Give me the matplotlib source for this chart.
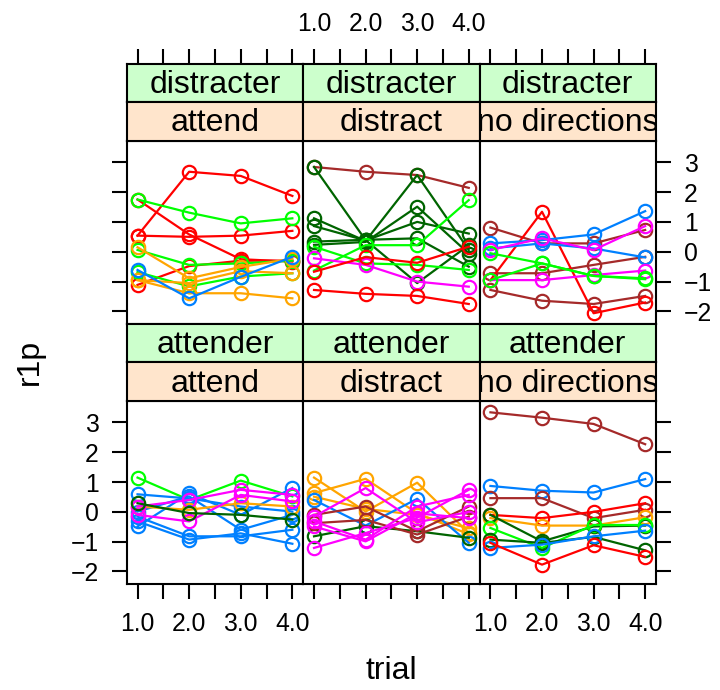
import numpy as np
import matplotlib.pyplot as plt

plt.rcParams['font.family'] = ['Liberation Sans', 'DejaVu Sans']

W, H = 720, 690

trial = [1, 2, 3, 4]

# group code -> lattice superpose colour
palette = {1: "#0080ff", 2: "#ff00ff", 3: "#006400", 4: "#ff0000",
           5: "#ffa500", 6: "#00ff00", 7: "#a52a2a"}

outer = ["distracter", "attender"]
inner = ["attend", "distract", "no directions"]

#### r1p values, one row per subject ####
# distracter / attend
tl_grp = [4, 4, 4, 4, 6, 6, 6, 5, 5, 5, 1]
tl_r1p = [[0.54, 2.68, 2.54, 1.87],
          [1.75, 0.58, -0.25, -0.33],
          [0.54, 0.50, 0.54, 0.70],
          [-1.11, -0.48, -0.30, -0.30],
          [1.75, 1.31, 0.95, 1.12],
          [0.06, -0.44, -0.39, -0.30],
          [-0.68, -1.16, -0.83, -0.72],
          [0.15, -0.89, -0.51, -0.23],
          [-0.95, -1.39, -1.39, -1.56],
          [-0.95, -1.05, -0.65, -0.72],
          [-0.61, -1.56, -0.84, -0.17]]

# distracter / distract
tm_grp = [7, 3, 3, 3, 3, 3, 6, 6, 2, 4, 4]
tm_r1p = [[2.84, 2.68, 2.57, 2.14],
          [2.84, 0.39, -1.05, 0.22],
          [1.12, 0.36, 2.57, 0.06],
          [0.86, 0.38, 1.00, 0.61],
          [0.34, 0.40, 0.45, -0.50],
          [0.23, 0.33, 1.51, -0.06],
          [0.17, -0.39, -0.44, -0.61],
          [-0.63, 0.22, 0.22, 1.73],
          [-0.22, -0.44, -1.00, -1.17],
          [-0.67, -0.18, -0.37, 0.17],
          [-1.28, -1.41, -1.48, -1.75]]

# distracter / no directions
tr_grp = [7, 7, 7, 4, 1, 1, 2, 2, 6, 6]
tr_r1p = [[0.81, 0.28, 0.28, 0.73],
          [-0.72, -0.72, -0.44, -0.17],
          [-1.28, -1.64, -1.75, -1.48],
          [-0.95, 1.34, -2.06, -1.70],
          [0.28, 0.39, 0.58, 1.36],
          [0.11, 0.28, 0.11, -0.19],
          [0.06, 0.45, 0.06, 0.86],
          [-0.95, -0.95, -0.78, -0.63],
          [-0.05, -0.39, -0.81, -0.89],
          [-0.95, -0.39, -0.81, -0.92]]

# attender / attend
bl_grp = [6, 1, 1, 1, 1, 1, 5, 2, 2, 3]
bl_r1p = [[1.15, 0.40, 1.05, 0.52],
          [0.59, 0.45, 0.18, 0.01],
          [-0.16, -0.82, -0.82, -0.60],
          [-0.32, -0.93, -0.72, -1.07],
          [-0.49, 0.62, -0.10, 0.80],
          [0.01, 0.52, -0.60, -0.10],
          [0.18, 0.07, 0.29, 0.18],
          [0.18, 0.40, 0.74, 0.57],
          [-0.10, -0.32, 0.57, 0.35],
          [0.29, -0.04, -0.10, -0.26]]

# attender / distract
bm_grp = [5, 5, 5, 1, 3, 7, 7, 2, 2, 2, 2]
bm_r1p = [[1.15, 0.01, 0.98, -0.71],
          [0.63, 1.11, -0.05, -0.75],
          [0.51, 0.10, -0.10, -0.55],
          [0.40, -0.46, 0.44, -1.04],
          [-0.82, -0.48, -0.65, -0.87],
          [-0.10, 0.18, -0.65, 0.18],
          [-0.38, -0.27, -0.76, -0.16],
          [-0.16, 0.80, -0.35, 0.00],
          [-1.21, -0.71, -0.20, 0.74],
          [-0.32, -0.93, 0.18, 0.57],
          [-0.49, -0.99, -0.05, -0.21]]

# attender / no directions
br_grp = [7, 1, 7, 4, 5, 3, 6, 3, 1, 4]
br_r1p = [[3.34, 3.16, 2.95, 2.27],
          [0.87, 0.71, 0.65, 1.10],
          [0.46, 0.46, -0.21, 0.07],
          [-0.10, -0.21, 0.00, 0.29],
          [-0.21, -0.46, -0.46, -0.18],
          [-0.10, -0.99, -0.49, -0.46],
          [-0.54, -1.21, -0.44, -0.44],
          [-0.93, -1.04, -0.84, -1.29],
          [-1.21, -1.10, -0.82, -0.63],
          [-1.04, -1.77, -1.12, -1.51]]

panels = [[(tl_grp, tl_r1p), (tm_grp, tm_r1p), (tr_grp, tr_r1p)],
          [(bl_grp, bl_r1p), (bm_grp, bm_r1p), (br_grp, br_r1p)]]

#### layout (pixels) ####
col_x = [126.7, 303.2, 479.6, 656.0]
row_y = [(64.0, 102.4, 140.7, 324.0), (324.0, 362.3, 401.0, 584.0)]
XLIM = (0.79, 4.21)
YLIM = (-2.42, 3.72)
LW = 1.5
TICK_FS = 17.8
TEXT_FS = 23.0


def box(x0, y0, x1, y1):
    return [x0 / W, 1 - y1 / H, (x1 - x0) / W, (y1 - y0) / H]


fig = plt.figure(figsize=(W / 100, H / 100), dpi=100)

# column axes carrying the x ticks above the strips / below the panels
for c in range(3):
    cax = fig.add_axes(box(col_x[c], row_y[0][0], col_x[c + 1], row_y[1][3]), frameon=False)
    cax.set_xlim(XLIM)
    cax.set_yticks([])
    cax.set_xticks(np.arange(1, 4.01, 0.5))
    cax.set_xticklabels(["1.0", "", "2.0", "", "3.0", "", "4.0"])
    top_lab = (c == 1)
    cax.tick_params(axis='x', top=True, bottom=True, labeltop=top_lab, labelbottom=not top_lab,
                    direction='out', length=11, width=LW, labelsize=TICK_FS, pad=9)

for r in range(2):
    ys0, ys1, ys2, yp1 = row_y[r]
    for c in range(3):
        x0, x1 = col_x[c], col_x[c + 1]
        ax = fig.add_axes(box(x0, ys2, x1, yp1))
        grp, vals = panels[r][c]
        for g, v in zip(grp, vals):
            ax.plot(trial, v, color=palette[g], lw=1.6, marker='o', ms=9.6,
                    mfc='none', mew=1.6)
        ax.set_xlim(XLIM)
        ax.set_ylim(YLIM)
        ax.set_xticks([])
        for s in ax.spines.values():
            s.set_linewidth(LW)
        if c == 1:
            ax.set_yticks([])
        else:
            ax.set_yticks(range(-2, 4))
            side_left = (c == 0)
            show = (r == 1 and side_left) or (r == 0 and not side_left)
            ax.tick_params(axis='y', left=side_left, right=not side_left,
                           labelleft=side_left and show, labelright=(not side_left) and show,
                           direction='out', length=11, width=LW, labelsize=TICK_FS, pad=9)

        # strips
        for (sa, sb, txt, fc) in [(ys0, ys1, outer[r], "#ccffcc"), (ys1, ys2, inner[c], "#ffe5cc")]:
            sax = fig.add_axes(box(x0, sa, x1, sb))
            sax.set_facecolor(fc)
            sax.set_xticks([])
            sax.set_yticks([])
            for s in sax.spines.values():
                s.set_linewidth(LW)
            sax.text(0.5, 0.45, txt, ha='center', va='center', fontsize=TEXT_FS,
                     transform=sax.transAxes, clip_on=True)

fig.text(30 / W, 1 - 362 / H, "r1p", rotation=90, ha='center', va='center', fontsize=TEXT_FS)
fig.text(391 / W, 1 - 671 / H, "trial", ha='center', va='center', fontsize=TEXT_FS)

fig.savefig("out.png", dpi=100)
